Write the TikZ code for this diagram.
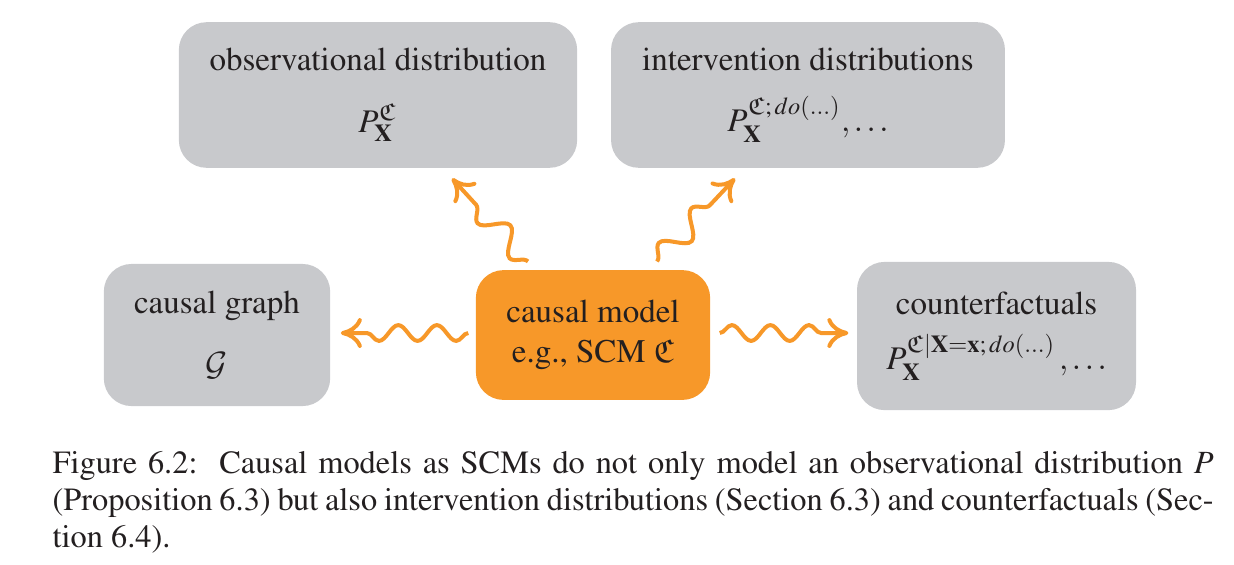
\documentclass[tikz,border=0pt]{standalone}
\usepackage[T1]{fontenc}
\usepackage{mathptmx}
\usepackage{amsmath}
\usepackage{amssymb}
\usepackage{tikz}
\usetikzlibrary{arrows.meta, calc, decorations.pathmorphing}
\DeclareMathAlphabet{\mathcal}{OMS}{cmsy}{m}{n}
\newcommand{\tightspaces}{\spaceskip=0.25em plus 0.3em minus 0.1em\relax}
\definecolor{mygray}{RGB}{200,201,204}
\definecolor{myorange}{RGB}{247,152,41}
\definecolor{mytext}{RGB}{35,31,32}
\tikzset{
  graybox/.style={rectangle, fill=mygray, rounded corners=9pt,
    align=center, font=\fontsize{10.7}{13}\selectfont, text=mytext, inner sep=0pt},
  orangebox/.style={graybox, fill=myorange},
  wavy/.style={-{To[length=2.4mm, width=3.4mm]}, line width=1.3pt, color=myorange,
    decorate, decoration={snake, amplitude=0.9mm, segment length=4.4mm, post length=2mm}},
  bigwavy/.style={wavy, decoration={snake, amplitude=1.3mm, segment length=5.4mm, post length=2mm}},
  captext/.style={anchor=north west, inner sep=0pt, align=justify,
    text width=13.235cm, text=mytext, font=\fontsize{10.5}{12}\selectfont}
}

\begin{document}
\begin{tikzpicture}[x=0.0114cm, y=-0.0114cm]
  \useasboundingbox (0,0) rectangle (1234,564);
  % boxes
  \node[graybox, minimum width=4.54cm, minimum height=1.66cm] (obs) at (378,95)
    {observational distribution\\[7pt]$P^{\mathfrak{C}}_{\mathbf{X}}$};
  \node[graybox, minimum width=4.49cm, minimum height=1.66cm] (interv) at (808,95)
    {intervention distributions\\[7pt]$P^{\mathfrak{C};\,do(\ldots)}_{\mathbf{X}},\ldots$};
  \node[graybox, minimum width=2.58cm, minimum height=1.62cm] (graph) at (217,335)
    {causal graph\\[7pt]$\mathcal{G}$};
  \node[orangebox, minimum width=2.67cm, minimum height=1.48cm] (model) at (593,335)
    {causal model\\e.g., SCM $\mathfrak{C}$};
  \node[graybox, minimum width=3.18cm, minimum height=1.69cm] (cf) at (996.5,336)
    {counterfactuals\\[5pt]$P^{\mathfrak{C}|\mathbf{X}=\mathbf{x};\,do(\ldots)}_{\mathbf{X}}\,,\ldots$};
  % wavy arrows
  \draw[wavy] ($(model.west)+(-7,-2)$) -- ($(graph.east)+(10,-2)$);
  \draw[wavy] ($(model.east)+(9,-2)$) -- ($(cf.west)+(-8,-3)$);
  \draw[bigwavy] ($(model.north)+(-65,-8)$) -- ($(obs.south)+(74,10)$);
  \draw[bigwavy] ($(model.north)+(64,-8)$) -- ($(interv.south)+(-73,10)$);
  % caption
  \node[captext] (caption) at (52,451)
    {\tightspaces Figure 6.2:\ \ Causal models as SCMs do not only model an observational distribution $P$\linebreak
     (Proposition 6.3) but also intervention distributions (Section 6.3) and counterfactuals (Sec-\linebreak
     tion 6.4).};
\end{tikzpicture}
\end{document}
